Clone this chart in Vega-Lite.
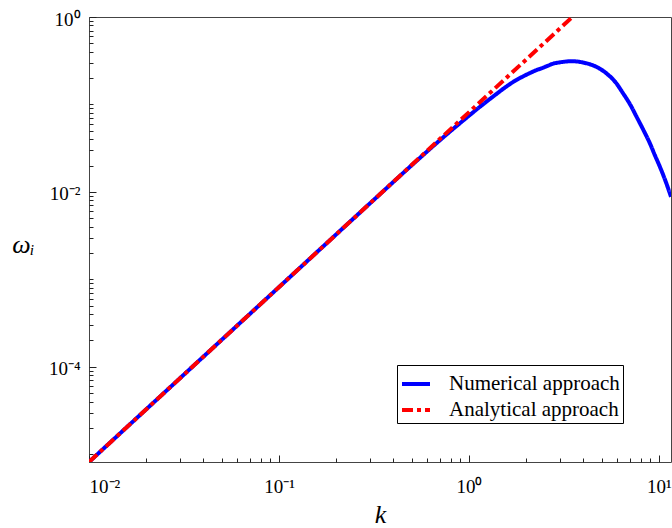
{
  "$schema": "https://vega.github.io/schema/vega-lite/v6.json",
  "width": 582,
  "height": 445,
  "autosize": {"type": "none"},
  "padding": {"left": 89, "top": 17, "right": 1, "bottom": 66},
  "config": {
    "view": {"stroke": "#444444", "strokeWidth": 1}
  },
  "data": {"values": [
      {"k": 0.01, "w": 0.00000815, "series": "Numerical approach"},
      {"k": 0.03, "w": 0.0000734, "series": "Numerical approach"},
      {"k": 0.1, "w": 0.000815, "series": "Numerical approach"},
      {"k": 0.3, "w": 0.00733, "series": "Numerical approach"},
      {"k": 0.5, "w": 0.0202, "series": "Numerical approach"},
      {"k": 0.65, "w": 0.0336, "series": "Numerical approach"},
      {"k": 0.8, "w": 0.0496, "series": "Numerical approach"},
      {"k": 0.933, "w": 0.0656, "series": "Numerical approach"},
      {"k": 1.143, "w": 0.0942, "series": "Numerical approach"},
      {"k": 1.399, "w": 0.1324, "series": "Numerical approach"},
      {"k": 1.55, "w": 0.1566, "series": "Numerical approach"},
      {"k": 1.71, "w": 0.1811, "series": "Numerical approach"},
      {"k": 1.9, "w": 0.206, "series": "Numerical approach"},
      {"k": 2.094, "w": 0.2287, "series": "Numerical approach"},
      {"k": 2.25, "w": 0.2455, "series": "Numerical approach"},
      {"k": 2.4, "w": 0.2582, "series": "Numerical approach"},
      {"k": 2.6, "w": 0.277, "series": "Numerical approach"},
      {"k": 2.777, "w": 0.2934, "series": "Numerical approach"},
      {"k": 2.95, "w": 0.301, "series": "Numerical approach"},
      {"k": 3.1, "w": 0.306, "series": "Numerical approach"},
      {"k": 3.47, "w": 0.312, "series": "Numerical approach"},
      {"k": 3.75, "w": 0.309, "series": "Numerical approach"},
      {"k": 4.0, "w": 0.301, "series": "Numerical approach"},
      {"k": 4.33, "w": 0.288, "series": "Numerical approach"},
      {"k": 4.8, "w": 0.262, "series": "Numerical approach"},
      {"k": 5.305, "w": 0.2255, "series": "Numerical approach"},
      {"k": 5.9, "w": 0.18, "series": "Numerical approach"},
      {"k": 6.487, "w": 0.133, "series": "Numerical approach"},
      {"k": 7.05, "w": 0.1, "series": "Numerical approach"},
      {"k": 7.63, "w": 0.072, "series": "Numerical approach"},
      {"k": 8.3, "w": 0.0505, "series": "Numerical approach"},
      {"k": 8.97, "w": 0.0357, "series": "Numerical approach"},
      {"k": 9.5, "w": 0.0265, "series": "Numerical approach"},
      {"k": 10.12, "w": 0.0193, "series": "Numerical approach"},
      {"k": 10.8, "w": 0.0135, "series": "Numerical approach"},
      {"k": 11.57, "w": 0.0088, "series": "Numerical approach"},
      {"k": 0.01, "w": 0.00000815, "series": "Analytical approach"},
      {"k": 3.503, "w": 1.0, "series": "Analytical approach"}
  ]},
  "mark": {"type": "line", "strokeWidth": 4, "clip": true, "interpolate": "monotone"},
  "encoding": {
    "x": {"field": "k", "type": "quantitative", "scale": {"type": "log", "domain": [0.01, 11.57], "nice": false},
      "axis": {"orient": "bottom", "grid": false, "domain": false, "ticks": true,
        "values": [0.01, 0.02, 0.03, 0.04, 0.05, 0.06, 0.07, 0.08, 0.09, 0.1, 0.2, 0.3, 0.4, 0.5, 0.6, 0.7, 0.8, 0.9, 1, 2, 3, 4, 5, 6, 7, 8, 9, 10],
        "tickColor": "#222222", "tickWidth": 1,
        "tickSize": {"condition": {"test": "indexof([0.01, 0.1, 1, 10], datum.value) >= 0", "value": -7}, "value": -4},
        "labelPadding": 37, "labelBaseline": "alphabetic", "labelFont": "Liberation Serif", "labelFontSize": 19, "labelColor": "black",
        "labelExpr": "datum.value == 0.01 ? '10⁻²' : datum.value == 0.1 ? '10⁻¹' : datum.value == 1 ? '10⁰' : datum.value == 10 ? '10¹' : ''",
        "title": "k", "titleFont": "Liberation Serif", "titleColor": "black", "titleFontSize": 26, "titleFontStyle": "italic", "titleFontWeight": "normal", "titleX": 291, "titleY": 60, "titleBaseline": "alphabetic", "titleAlign": "center"}},
    "y": {"field": "w", "type": "quantitative", "scale": {"type": "log", "domain": [0.00000815, 1], "nice": false},
      "axis": {"orient": "left", "grid": false, "domain": false, "ticks": true,
        "values": [0.000009, 0.00001, 0.00002, 0.00003, 0.00004, 0.00005, 0.00006, 0.00007, 0.00008, 0.00009, 0.0001, 0.0002, 0.0003, 0.0004, 0.0005, 0.0006, 0.0007, 0.0008, 0.0009, 0.001, 0.002, 0.003, 0.004, 0.005, 0.006, 0.007, 0.008, 0.009, 0.01, 0.02, 0.03, 0.04, 0.05, 0.06, 0.07, 0.08, 0.09, 0.1, 0.2, 0.3, 0.4, 0.5, 0.6, 0.7, 0.8, 0.9, 1],
        "tickColor": "#222222", "tickWidth": 1,
        "tickSize": {"condition": {"test": "indexof([1, 0.01, 0.0001], datum.value) >= 0", "value": -7}, "value": -4},
        "labelPadding": 16, "labelBaseline": "middle", "labelOffset": 2, "labelFont": "Liberation Serif", "labelFontSize": 19, "labelColor": "black",
        "labelExpr": "datum.value == 1 ? '10⁰' : datum.value == 0.01 ? '10⁻²' : datum.value == 0.0001 ? '10⁻⁴' : ''",
        "title": "ωᵢ", "titleFont": "Liberation Serif", "titleColor": "black", "titleAngle": 0, "titleFontSize": 26, "titleFontStyle": "italic", "titleFontWeight": "normal", "titleX": -66, "titleY": 235, "titleBaseline": "alphabetic", "titleAlign": "center"}},
    "color": {"field": "series", "type": "nominal", "sort": null, "scale": {"domain": ["Numerical approach", "Analytical approach"], "range": ["#0000ff", "#ff0000"]},
      "legend": {"orient": "none", "legendX": 308, "legendY": 348, "title": null, "fillColor": "white", "strokeColor": "black", "padding": 3, "symbolType": "stroke", "symbolSize": 784, "symbolStrokeWidth": 4, "labelFont": "Liberation Serif", "labelFontSize": 21, "labelColor": "black", "labelOffset": 17, "rowPadding": -3, "labelLimit": 400}},
    "strokeDash": {"field": "series", "type": "nominal", "sort": null, "scale": {"domain": ["Numerical approach", "Analytical approach"], "range": [[1, 0], [11, 4, 4, 4]]},
      "legend": {"orient": "none", "legendX": 308, "legendY": 348, "title": null, "fillColor": "white", "strokeColor": "black", "padding": 3, "symbolType": "stroke", "symbolSize": 784, "symbolStrokeWidth": 4, "labelFont": "Liberation Serif", "labelFontSize": 21, "labelColor": "black", "labelOffset": 17, "rowPadding": -3, "labelLimit": 400}}
  }
}
